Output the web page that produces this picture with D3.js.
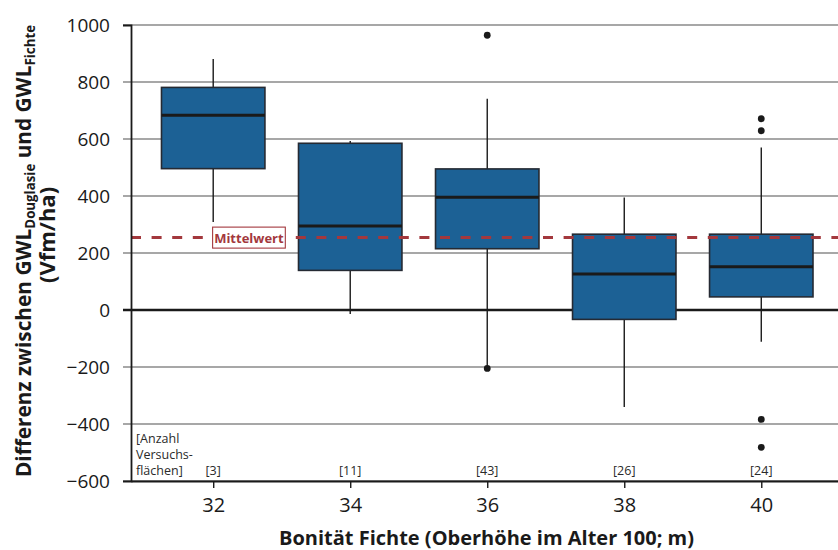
<!DOCTYPE html>
<html>
<head>
<meta charset="utf-8">
<script src="https://cdn.jsdelivr.net/npm/d3@7"></script>
<style>
  html, body { margin: 0; padding: 0; background: #fff; }
  svg { display: block; font-family: "Open Sans", "Noto Sans", sans-serif; }
</style>
</head>
<body>
<svg id="chart" width="838" height="550"></svg>
<script>
// Site index classes of spruce (Oberhöhe im Alter 100)
const categories = [32, 34, 36, 38, 40];
// Number of trial plots per class
const counts = [3, 11, 43, 26, 24];
// Box statistics (Vfm/ha)
const whiskerLow  = [309, -14, -200, -340, -111];
const q1          = [496, 139, 215, -33, 46];
const median      = [683, 295, 396, 126, 152];
const q3          = [781, 585, 495, 266, 266];
const whiskerHigh = [881, 593, 741, 395, 570];
const outliers    = [[], [], [964, -205], [], [671, 629, -384, -482]];
// Overall mean difference
const meanValue = 254;
// Y tick values
const yTicks = [-600, -400, -200, 0, 200, 400, 600, 800, 1000];

const svg = d3.select("#chart");
const plotLeft = 131, plotRight = 838, plotTop = 25, plotBottom = 481;

const x = d3.scaleLinear().domain([30.8, 41.12]).range([plotLeft, plotRight]);
const y = d3.scaleLinear().domain([-600, 1000]).range([plotBottom, plotTop]);
const halfBox = 0.755;

const boxes = categories.map((c, i) => ({
  c, n: counts[i], lo: whiskerLow[i], q1: q1[i], med: median[i], q3: q3[i], hi: whiskerHigh[i], out: outliers[i]
}));

// Horizontal grid lines
svg.append("g").selectAll("line")
  .data(yTicks.filter(t => t !== 0))
  .join("line")
  .attr("x1", plotLeft - 8).attr("x2", plotRight)
  .attr("y1", d => y(d)).attr("y2", d => y(d))
  .attr("stroke", "#8a8a8a").attr("stroke-width", 1.6);

// Zero line
svg.append("line")
  .attr("x1", plotLeft - 8).attr("x2", plotRight)
  .attr("y1", y(0)).attr("y2", y(0))
  .attr("stroke", "#1a1a1a").attr("stroke-width", 2.4);

// Box plots
const g = svg.append("g");
const bx = g.selectAll("g.box").data(boxes).join("g").attr("class", "box");

bx.append("line")
  .attr("x1", d => x(d.c)).attr("x2", d => x(d.c))
  .attr("y1", d => y(d.hi)).attr("y2", d => y(d.q3))
  .attr("stroke", "#1a1a1a").attr("stroke-width", 1.4);
bx.append("line")
  .attr("x1", d => x(d.c)).attr("x2", d => x(d.c))
  .attr("y1", d => y(d.q1)).attr("y2", d => y(d.lo))
  .attr("stroke", "#1a1a1a").attr("stroke-width", 1.4);

bx.append("rect")
  .attr("x", d => x(d.c - halfBox))
  .attr("width", d => x(d.c + halfBox) - x(d.c - halfBox))
  .attr("y", d => y(d.q3))
  .attr("height", d => y(d.q1) - y(d.q3))
  .attr("fill", "#1c6195")
  .attr("stroke", "#252a33").attr("stroke-width", 1.6);

bx.append("line")
  .attr("x1", d => x(d.c - halfBox)).attr("x2", d => x(d.c + halfBox))
  .attr("y1", d => y(d.med)).attr("y2", d => y(d.med))
  .attr("stroke", "#1a1a1a").attr("stroke-width", 3);

bx.selectAll("circle")
  .data(d => d.out.map(v => ({ c: d.c, v })))
  .join("circle")
  .attr("cx", d => x(d.c)).attr("cy", d => y(d.v))
  .attr("r", 3.4).attr("fill", "#1a1a1a");

// Mean line
svg.append("line")
  .attr("x1", plotLeft).attr("x2", plotRight)
  .attr("y1", y(meanValue)).attr("y2", y(meanValue))
  .attr("stroke", "#a3383d").attr("stroke-width", 3)
  .attr("stroke-dasharray", "10,10.6");

const mg = svg.append("g").attr("transform", `translate(${x(32.0) - 0.6},${y(meanValue)})`);
mg.append("rect")
  .attr("x", 0).attr("y", -10.5).attr("width", 72.7).attr("height", 21)
  .attr("fill", "#fff").attr("stroke", "#a3383d").attr("stroke-width", 1.1);
mg.append("text")
  .attr("x", 36.3).attr("y", 5)
  .attr("text-anchor", "middle")
  .attr("font-size", 13).attr("font-weight", 700)
  .attr("fill", "#a3383d")
  .text("Mittelwert");

// Y axis
const yAxis = d3.axisLeft(y).tickValues(yTicks).tickSize(8).tickPadding(13)
  .tickFormat(d3.format("d"));
const ya = svg.append("g").attr("transform", `translate(${plotLeft},0)`).call(yAxis);
ya.select(".domain").attr("stroke", "#1a1a1a").attr("stroke-width", 1.8);
ya.selectAll(".tick line").attr("stroke", "none");
ya.selectAll(".tick text").attr("font-size", 19).attr("fill", "#1a1a1a")
  .attr("font-family", "'Open Sans', sans-serif");

// X axis
const xAxis = d3.axisBottom(x).tickValues(categories).tickSize(7).tickSizeOuter(0)
  .tickFormat(d3.format("d"));
const xa = svg.append("g").attr("transform", `translate(0,${plotBottom})`).call(xAxis);
xa.select(".domain").attr("stroke", "#1a1a1a").attr("stroke-width", 2.2);
xa.selectAll(".tick line").attr("stroke", "#1a1a1a").attr("stroke-width", 1.4);
xa.selectAll(".tick text").attr("font-size", 20).attr("fill", "#1a1a1a")
  .attr("y", 31).attr("dy", 0)
  .attr("font-family", "'Open Sans', sans-serif");

// Plot counts
svg.append("g").selectAll("text")
  .data(boxes)
  .join("text")
  .attr("x", d => x(d.c)).attr("y", 475)
  .attr("text-anchor", "middle")
  .attr("font-size", 12.5).attr("fill", "#2a2a2a")
  .text(d => `[${d.n}]`);

const note = svg.append("text")
  .attr("x", 136).attr("font-size", 12.5).attr("fill", "#2a2a2a");
["[Anzahl", "Versuchs-", "flächen]"].forEach((t, i) => {
  note.append("tspan").attr("x", 136).attr("y", 443 + i * 16).text(t);
});

// Axis titles
svg.append("text")
  .attr("x", (plotLeft + plotRight) / 2 + 2).attr("y", 544.5)
  .attr("text-anchor", "middle")
  .attr("font-size", 20).attr("font-weight", 700).attr("fill", "#1a1a1a")
  .text("Bonität Fichte (Oberhöhe im Alter 100; m)");

const yt = svg.append("text")
  .attr("transform", "translate(31,251) rotate(-90)")
  .attr("text-anchor", "middle")
  .attr("font-size", 20.8).attr("font-weight", 700).attr("fill", "#1a1a1a");
yt.append("tspan").text("Differenz zwischen GWL");
yt.append("tspan").attr("font-size", 13.3).attr("dy", 4).text("Douglasie");
yt.append("tspan").attr("dy", -4).text(" und GWL");
yt.append("tspan").attr("font-size", 13.3).attr("dy", 4).text("Fichte");

svg.append("text")
  .attr("transform", "translate(55,235) rotate(-90)")
  .attr("text-anchor", "middle")
  .attr("font-size", 22).attr("font-weight", 700).attr("fill", "#1a1a1a")
  .text("(Vfm/ha)");
</script>
</body>
</html>
